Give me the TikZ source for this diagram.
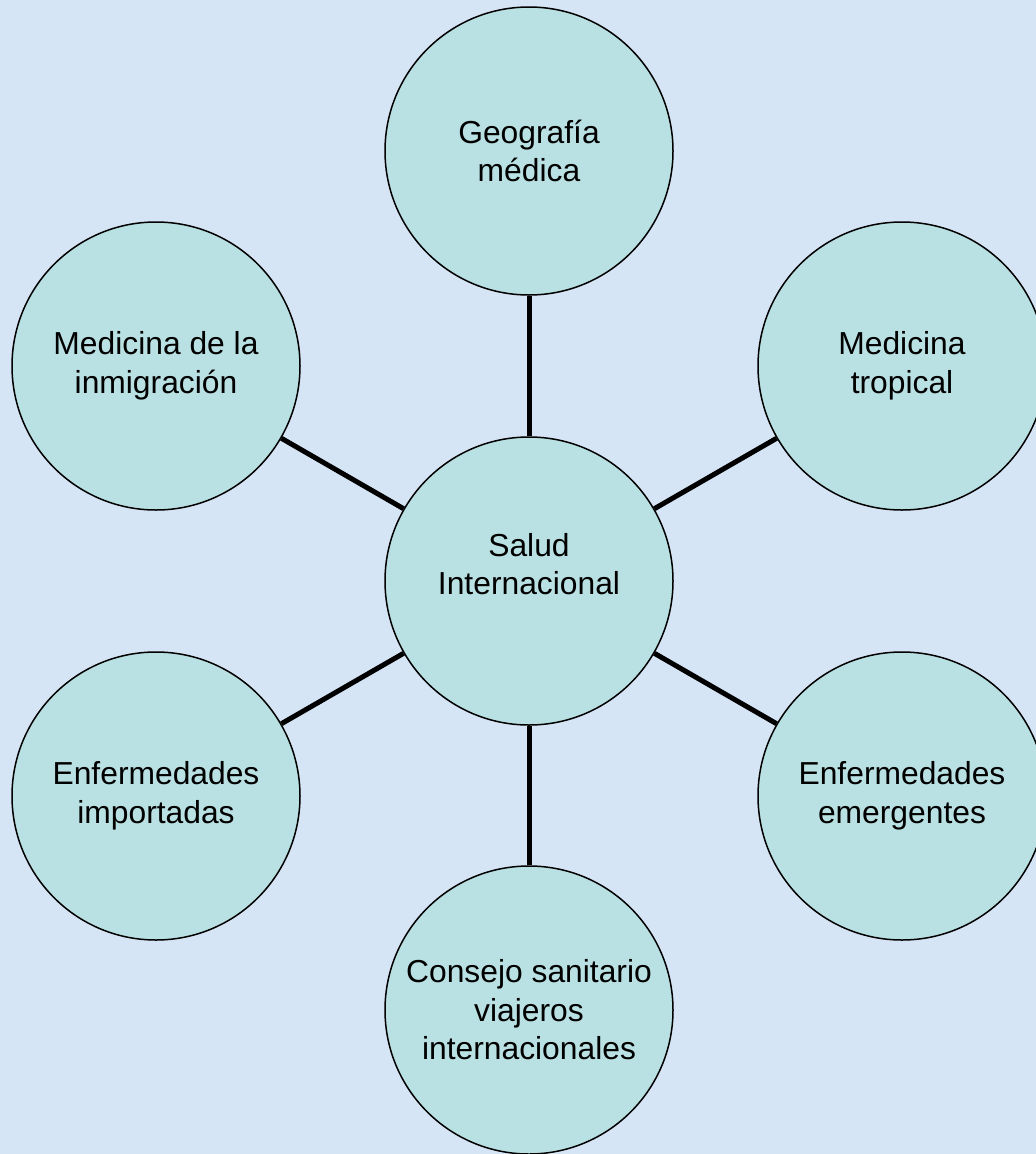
\documentclass[tikz,border=0pt]{standalone}
\usepackage{fontspec}
\setmainfont{Liberation Sans}
\definecolor{bgblue}{HTML}{D6E5F5}
\definecolor{circfill}{HTML}{B9E0E2}
\tikzset{
  topic/.style={circle, draw=black, line width=1.5pt, fill=circfill,
    minimum size=288pt, inner sep=0pt, align=center,
    font=\fontsize{31.8}{38.5}\selectfont},
  plain/.style={align=center, font=\fontsize{31.8}{38.5}\selectfont, inner sep=0pt},
  link/.style={line width=5pt, black}
}
\begin{document}
\begin{tikzpicture}[x=1pt, y=-1pt]
  \fill[bgblue] (0,0) rectangle (1036,1154);
  \useasboundingbox (0,0) rectangle (1036,1154);
  \node[topic] (c)  at (529,581) {};
  \node[plain] (ctext) at (529,564) {Salud\\Internacional};
  \node[topic] (t)  at (529,151) {Geografía\\médica};
  \node[topic] (ul) at (156,366) {Medicina de la\\inmigración};
  \node[topic] (ur) at (902,366) {Medicina\\tropical};
  \node[topic] (ll) at (156,796) {Enfermedades\\importadas};
  \node[topic] (lr) at (902,796) {Enfermedades\\emergentes};
  \node[topic] (b)  at (529,1010) {Consejo sanitario\\viajeros\\internacionales};
  \foreach \n in {t,ul,ur,ll,lr,b} {
    \draw[link] (c) -- (\n);
  }
\end{tikzpicture}
\end{document}
